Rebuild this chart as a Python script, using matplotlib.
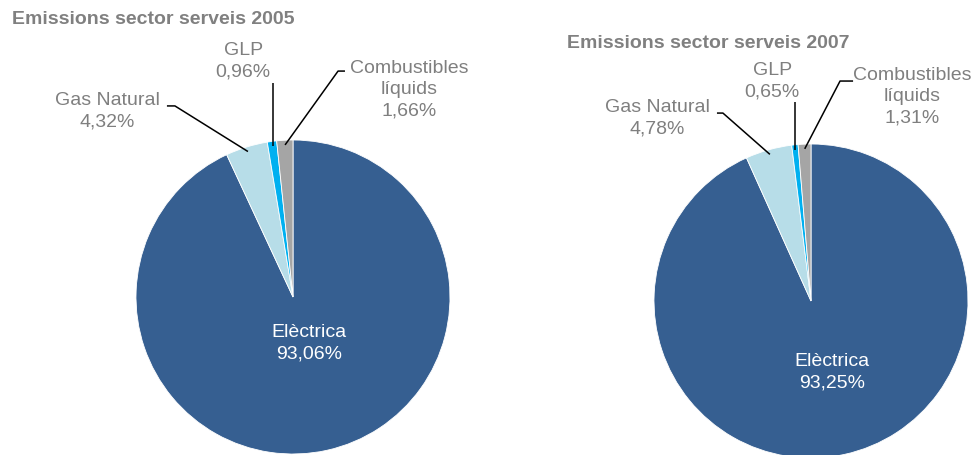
import matplotlib
matplotlib.use("Agg")
import matplotlib.pyplot as plt
import numpy as np

plt.rcParams['font.family'] = ['Liberation Sans', 'DejaVu Sans']

categories = ["Elèctrica", "Gas Natural", "GLP", "Combustibles\nlíquids"]
values_2005 = [93.06, 4.32, 0.96, 1.66]
values_2007 = [93.25, 4.78, 0.65, 1.31]
titles = ["Emissions sector serveis 2005", "Emissions sector serveis 2007"]
colors = ["#365F91", "#B7DDE8", "#00B0F0", "#A5A5A5"]

W, H = 976, 456
fig = plt.figure(figsize=(W / 100, H / 100), dpi=100)

R = 157  # pie radius in px


def pct(v):
    return f"{v:.2f}".replace(".", ",") + "%"


# layout per pie: centre (px), label text offsets (in radius units), leader start/knee
layouts = [
    dict(center=(293, 298),
         title=(12, 20),
         elec=(0.102, -0.290),
         texts={1: (-1.185, 1.188), 2: (-0.318, 1.506), 3: (0.739, 1.325)},
         leaders={1: [(-0.803, 1.217), (-0.752, 1.217)],
                  2: [(-0.140, 1.363)],
                  3: [(0.331, 1.439), (0.287, 1.439)]}),
    dict(center=(811, 302),
         title=(567, 44),
         elec=(0.134, -0.449),
         texts={1: (-0.981, 1.172), 2: (-0.248, 1.408), 3: (0.643, 1.309)},
         leaders={1: [(-0.599, 1.197), (-0.561, 1.197)],
                  2: [(-0.096, 1.268)],
                  3: [(0.268, 1.401), (0.185, 1.401)]}),
]

label_color = "#7F7F7F"
FS = 14
LS = 1.32

for vals, title, lay in zip([values_2005, values_2007], titles, layouts):
    cx, cy = lay["center"]
    ax = fig.add_axes([(cx - R) / W, (H - cy - R) / H, 2 * R / W, 2 * R / H])
    wedges, _ = ax.pie(vals, colors=colors, startangle=90, counterclock=False,
                       radius=1.0,
                       wedgeprops=dict(edgecolor="white", linewidth=0.6))
    ax.set_xlim(-1, 1)
    ax.set_ylim(-1, 1)
    ax.set_aspect("equal")
    ax.axis("off")

    # Elèctrica label inside
    ex, ey = lay["elec"]
    ax.text(ex, ey, f"{categories[0]}\n{pct(vals[0])}", ha="center", va="center",
            color="white", fontsize=FS, linespacing=LS)

    for i in (1, 2, 3):
        w = wedges[i]
        mid = np.deg2rad((w.theta1 + w.theta2) / 2)
        end = (0.97 * np.cos(mid), 0.97 * np.sin(mid))
        pts = lay["leaders"][i]
        if len(pts) == 1:
            xs = [end[0], end[0]]
            ys = [pts[0][1], end[1]]
        else:
            xs = [pts[0][0], pts[1][0], end[0]]
            ys = [pts[0][1], pts[1][1], end[1]]
        ax.plot(xs, ys, color="black", linewidth=1.1, clip_on=False,
                solid_capstyle="butt")
        tx, ty = lay["texts"][i]
        ax.text(tx, ty, f"{categories[i]}\n{pct(vals[i])}", ha="center", va="center",
                color=label_color, fontsize=FS, linespacing=LS, clip_on=False)

    fx, fy = lay["title"]
    fig.text(fx / W, 1 - fy / H, title, ha="left", va="center", fontsize=14,
             fontweight="bold", color="#808080")

fig.savefig("out.png", dpi=100, facecolor="white")
